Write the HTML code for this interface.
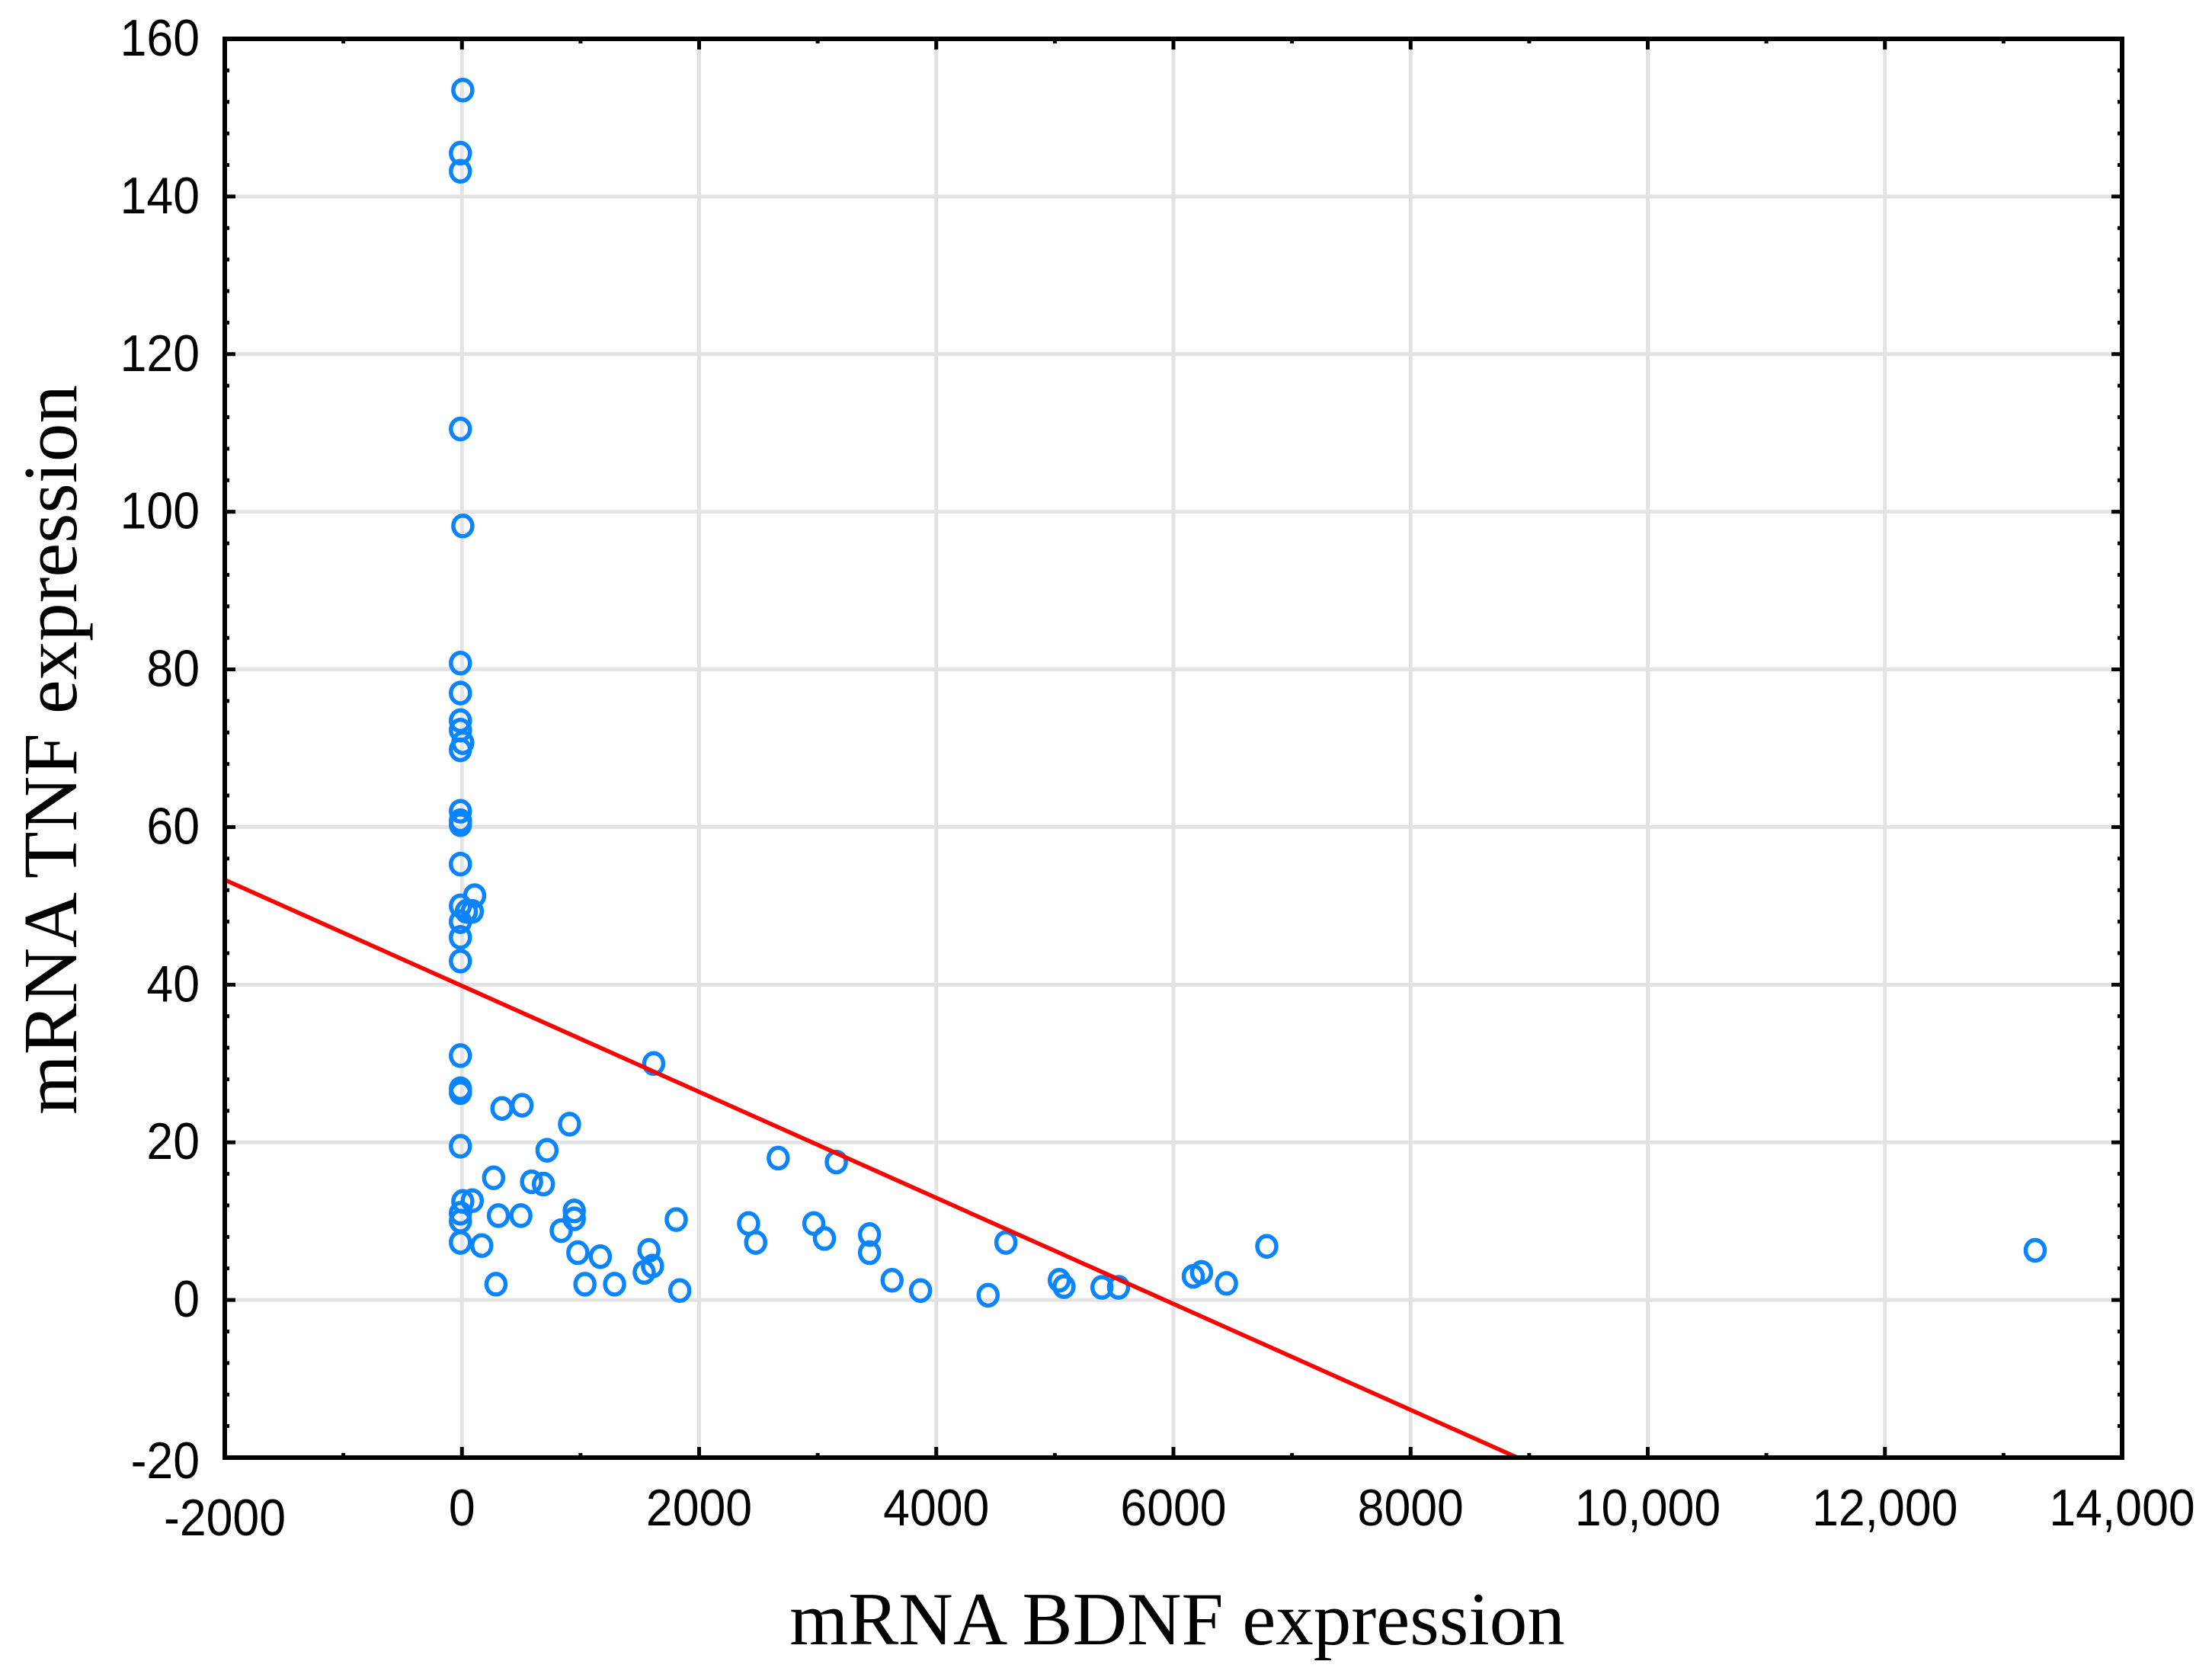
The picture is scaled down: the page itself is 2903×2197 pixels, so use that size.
<!DOCTYPE html>
<html><head><meta charset="utf-8">
<style>
html,body{margin:0;padding:0;background:#fff;}
svg{display:block;}
</style></head>
<body>
<svg id="chart" width="2903" height="2197" viewBox="0 0 2903 2197" xmlns="http://www.w3.org/2000/svg">
  <rect x="0" y="0" width="2903" height="2197" fill="#fff"/>
  <g id="grid"></g>
  <g id="ticks"></g>
  <g id="points"></g>
  <g id="fit"></g>
  <rect x="295" y="51" width="2490" height="1862" fill="none" stroke="#000" stroke-width="6"/>
  <g id="labels" font-family="'Liberation Sans', Arial, sans-serif" font-size="68" fill="#000"></g>
  <text x="1545" y="2158" text-anchor="middle" font-family="'Liberation Serif', 'Times New Roman', serif" font-size="99" fill="#000">mRNA BDNF expression</text>
  <text transform="translate(100,984) rotate(-90)" text-anchor="middle" font-family="'Liberation Serif', 'Times New Roman', serif" font-size="101" fill="#000">mRNA TNF expression</text>
</svg>
<script>
const xTicks = [-2000, 0, 2000, 4000, 6000, 8000, 10000, 12000, 14000];
const xTickLabels = ["-2000", "0", "2000", "4000", "6000", "8000", "10,000", "12,000", "14,000"];
const yTicks = [-20, 0, 20, 40, 60, 80, 100, 120, 140, 160];
const yTickLabels = ["-20", "0", "20", "40", "60", "80", "100", "120", "140", "160"];
const bdnf = [20,0,0,0,20,0,0,0,0,20,0,0,0,0,0,120,0,50,100,0,0,0,0,0,0,0,20,100,0,0,0,180,280,300,320,350,520,510,600,700,730,850,920,960,960,990,1050,1180,1300,1550,1590,1620,1630,1820,1850,2430,2490,2680,2980,3070,3170,3450,3450,3640,3880,4450,4600,5050,5090,5410,5550,6180,6250,6460,6800,13280];
const tnf = [153.5,145.5,143.2,110.5,98.2,80.8,77,73.5,72.3,70.7,69.8,62,60.8,60.3,55.3,51.3,50,49.3,49.3,48,46,43,31,26.8,26.3,19.5,12.5,12.6,11,10,7.3,6.9,15.5,2.0,10.7,24.3,24.7,10.7,15,14.7,19,8.8,22.3,11.3,10.3,6,2,5.5,2,3.5,6.3,4.3,30,10.2,1.2,9.7,7.3,18,9.7,7.8,17.5,8.3,6,2.5,1.2,0.6,7.3,2.5,1.7,1.6,1.6,3,3.5,2.1,6.8,6.3];
const fitX = [-2000, 8900];
const fitY = [53.3, -20];

const L=295,R=2785,T=51,B=1913;
const xMin=-2000,xMax=14000,yMin=-20,yMax=160;
const sx=v=>L+(v-xMin)/(xMax-xMin)*(R-L);
const sy=v=>B-(v-yMin)/(yMax-yMin)*(B-T);
const NS="http://www.w3.org/2000/svg";
function mk(tag,attrs,parent){const e=document.createElementNS(NS,tag);for(const k in attrs)e.setAttribute(k,attrs[k]);parent.appendChild(e);return e;}
const grid=document.getElementById('grid'),ticks=document.getElementById('ticks'),labels=document.getElementById('labels');

xTicks.forEach((v,i)=>{
  const x=sx(v);
  if(v>xMin&&v<xMax){
    const g=mk('line',{x1:x,y1:T,x2:x,y2:B,stroke:'#e3e3e3','stroke-width':5},grid);
    
    
  }
  [[B,B-14],[T,T+14]].forEach(p=>{
    const t=mk('line',{x1:x,y1:p[0],x2:x,y2:p[1],stroke:'#000','stroke-width':5},ticks);
    
    
  });
  if(i<xTicks.length-1){
    const xm=sx(v+1000);
    [[B,B-6],[T,T+6]].forEach(p=>{
      const t=mk('line',{x1:xm,y1:p[0],x2:xm,y2:p[1],stroke:'#000','stroke-width':5},ticks);
      
      
    });
  }
  const tx=mk('text',{x:0,y:0,'text-anchor':'middle',transform:'translate('+x+','+(v===-2000?2015:2002)+') scale(0.92,1)'},labels);
  tx.textContent=xTickLabels[i];
  
  
});

yTicks.forEach((v,i)=>{
  const y=sy(v);
  if(v>yMin&&v<yMax){
    const g=mk('line',{x1:L,y1:y,x2:R,y2:y,stroke:'#e3e3e3','stroke-width':5},grid);
    
    
  }
  [[L,L+14],[R,R-14]].forEach(p=>{
    const t=mk('line',{x1:p[0],y1:y,x2:p[1],y2:y,stroke:'#000','stroke-width':5},ticks);
    
    
  });
  if(i<yTicks.length-1){
    for(let k=1;k<5;k++){
      const ym=sy(v+4*k);
      [[L,L+6],[R,R-6]].forEach(p=>{
        const t=mk('line',{x1:p[0],y1:ym,x2:p[1],y2:ym,stroke:'#000','stroke-width':5},ticks);
        
        
      });
    }
  }
  const ty=mk('text',{x:0,y:0,'text-anchor':'end',transform:'translate(262,'+(y+(v===-20?27:22))+') scale(0.92,1)'},labels);
  ty.textContent=yTickLabels[i];
  
  
});

const pts=document.getElementById('points');
bdnf.forEach((v,i)=>{
  const c=mk('ellipse',{cx:sx(v)-2,cy:sy(tnf[i]),rx:12.5,ry:13.5,fill:'none',stroke:'#0a84ff','stroke-width':5.5},pts);
  
  
});

const fl=mk('line',{x1:sx(fitX[0]),y1:sy(fitY[0]),x2:sx(fitX[1]),y2:sy(fitY[1]),stroke:'#ff0000','stroke-width':5.5},document.getElementById('fit'));


</script>
</body></html>
